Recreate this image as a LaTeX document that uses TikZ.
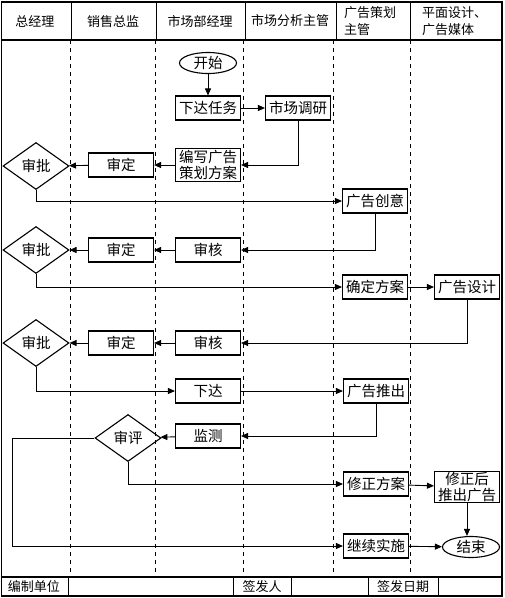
\documentclass[tikz,border=0pt]{standalone}
\usepackage{fontspec}
\setmainfont{Noto Sans CJK SC}
\usetikzlibrary{shapes.geometric,arrows.meta}
\begin{document}
\begin{tikzpicture}[x=1pt,y=-1pt,
  txt/.style={font=\fontsize{13}{17}\selectfont},
  box/.style={draw,line width=1.1pt,rectangle,minimum width=65pt,minimum height=24pt,inner sep=0.5pt,font=\fontsize{14.5}{15.5}\selectfont,align=center},
  box2/.style={box,inner sep=0pt},
  dia/.style={draw,line width=1.1pt,diamond,minimum width=66pt,minimum height=47pt,inner sep=0pt,font=\fontsize{14.5}{15}\selectfont},
  term/.style={draw,line width=1.1pt,ellipse,minimum width=57pt,minimum height=21pt,inner sep=0pt,font=\fontsize{14.5}{15}\selectfont},
  conn/.style={line width=0.9pt,-{Triangle[length=7pt,width=6pt]}},
  lane/.style={line width=0.6pt,dash pattern=on 4pt off 4pt},
  frame/.style={line width=1.2pt}]
\useasboundingbox (0,0) rectangle (505,598);
% frame
\draw[frame] (1.5,2) rectangle (502,596);
\draw[frame] (1.5,40) -- (502,40);
\draw[frame] (1.5,577) -- (502,577);
\foreach \x in {71,156,245,336,410} \draw[line width=0.8pt] (\x,2) -- (\x,40);
\foreach \x in {70,155,243,333,410} \draw[lane] (\x,40) -- (\x,577);
\foreach \x in {68,233,291,368,438} \draw[line width=0.8pt] (\x,577) -- (\x,596);
% headers
\node[txt] (h1) at (35,21) {总经理};
\node[txt] (h2) at (113,22) {销售总监};
\node[txt] (h3) at (200,21) {市场部经理};
\node[txt] (h4) at (290,21) {市场分析主管};
\node[txt,anchor=west,align=left,inner sep=0pt] (h5) at (344,21) {广告策划\\主管};
\node[txt,anchor=west,align=left,inner sep=0pt] (h6) at (422,21) {平面设计、\\广告媒体};
% footer
\node[txt] (f1) at (34,587) {编制单位};
\node[txt] (f2) at (262,587) {签发人};
\node[txt] (f3) at (403,587) {签发日期};
% nodes
\node[term] (start) at (208,63) {开始};
\node[box] (xd) at (208,108) {下达任务};
\node[box] (dy) at (298,108) {市场调研};
\node[box2,minimum height=33pt] (bx) at (208,165) {编写广告\\策划方案};
\node[box] (sd1) at (121,165) {审定};
\node[dia] (sp1) at (36,166) {审批};
\node[box] (cy) at (375,201) {广告创意};
\node[box] (sh2) at (208,250) {审核};
\node[box] (sd2) at (121,250) {审定};
\node[dia] (sp2) at (36,250) {审批};
\node[box] (qd) at (375,287) {确定方案};
\node[box] (gs) at (467,287) {广告设计};
\node[box] (sh3) at (208,343) {审核};
\node[box] (sd3) at (121,343) {审定};
\node[dia] (sp3) at (36,343) {审批};
\node[box] (xd2) at (208,391) {下达};
\node[box] (gt) at (376,391) {广告推出};
\node[box] (jc) at (208,436) {监测};
\node[dia] (sp4) at (128,438) {审评};
\node[box] (xz) at (376,484) {修正方案};
\node[box2,minimum height=31pt] (xh) at (467,487) {修正后\\推出广告};
\node[box] (jx) at (376,546) {继续实施};
\node[term] (end) at (471,547) {结束};
\coordinate (lp) at (12,438);
% connectors
\draw[conn] (start) -- (xd);
\draw[conn] (xd) -- (dy);
\draw[conn] (dy.south) |- (bx.east);
\draw[conn] (bx) -- (sd1);
\draw[conn] (sd1) -- (sp1);
\draw[conn] (sp1.south) |- (cy.west);
\draw[conn] (cy.south) |- (sh2.east);
\draw[conn] (sh2) -- (sd2);
\draw[conn] (sd2) -- (sp2);
\draw[conn] (sp2.south) |- (qd.west);
\draw[conn] (qd) -- (gs);
\draw[conn] (gs.south) |- (sh3.east);
\draw[conn] (sh3) -- (sd3);
\draw[conn] (sd3) -- (sp3);
\draw[conn] (sp3.south) |- (xd2.west);
\draw[conn] (xd2) -- (gt);
\draw[conn] (gt.south) |- (jc.east);
\draw[conn] (jc) -- (sp4);
\draw[conn] (sp4.west) -- (lp) |- (jx.west);
\draw[conn] (sp4.south) |- (xz.west);
\draw[conn] (xz) -- (xh);
\draw[conn] (xh.south) -- (xh.south |- end.north);
\draw[conn] (jx) -- (end);
\end{tikzpicture}
\end{document}
